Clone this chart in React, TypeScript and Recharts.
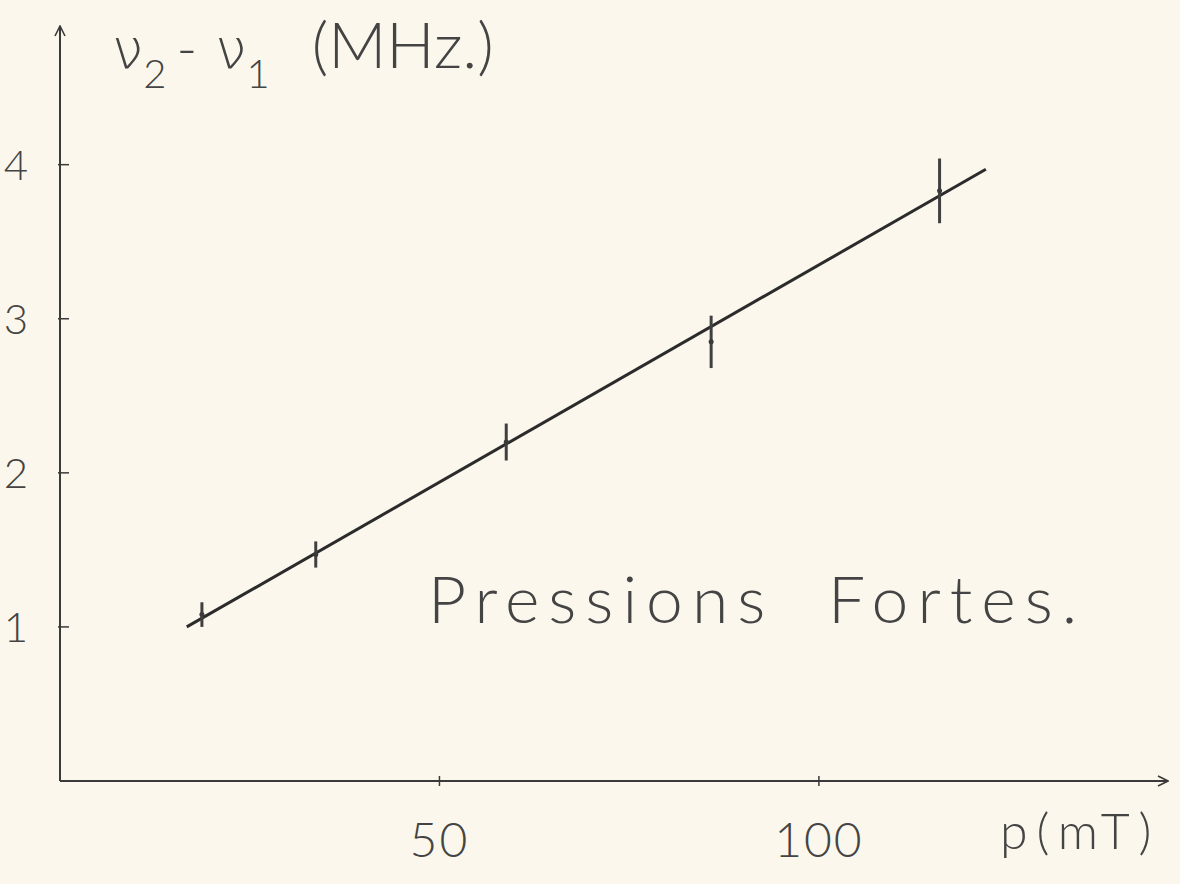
import { ComposedChart, Line, Scatter, ErrorBar, XAxis, YAxis } from 'recharts'

// pression (mT) et écart de fréquence (MHz)
const pressure = [18.7, 33.7, 58.8, 85.8, 115.9]
const deltaNu = [1.08, 1.47, 2.2, 2.85, 3.83]
const deltaErr = [0.08, 0.085, 0.12, 0.17, 0.21]

// droite ajustée
const fitP = [16.7, 122]
const fitNu = [1.0, 3.97]

const xTicks = [50, 100]
const yTicks = [1, 2, 3, 4]

const points = pressure.map((p, i) => ({ p, nu: deltaNu[i], err: deltaErr[i] }))
const fit = fitP.map((p, i) => ({ p, nu: fitNu[i] }))

const INK = '#3a3a3a'
const PAPER = '#fbf7ec'
const FONT = "Lato, 'DejaVu Sans', sans-serif"

const XTick = (props: any) => {
    const { x, y, payload } = props
    return (
        <g>
            <line x1={x} x2={x} y1={y - 5} y2={y + 5} stroke={INK} strokeWidth={1.5} />
            <text x={x} y={y + 76} textAnchor="middle" fontSize={48} fontWeight={300} fill="#444" fontFamily={FONT} letterSpacing={2}>
                {payload.value}
            </text>
        </g>
    )
}

const YTick = (props: any) => {
    const { x, y, payload } = props
    return (
        <g>
            <line x1={x - 2} x2={x + 9} y1={y} y2={y} stroke={INK} strokeWidth={1.5} />
            <text x={x - 44} y={y + 15} textAnchor="middle" fontSize={42} fontWeight={300} fill="#444" fontFamily={FONT}>
                {payload.value}
            </text>
        </g>
    )
}

const Dot = (props: any) => {
    const { cx, cy } = props
    return <circle cx={cx} cy={cy} r={2.5} fill={INK} />
}

export default function App() {
    return (
        <div style={{ position: 'fixed', left: 0, top: 0, width: 1180, height: 884, background: PAPER, fontFamily: FONT }}>
            <ComposedChart width={1180} height={884} margin={{ top: 26, right: 12, left: 0, bottom: 0 }}>
                <defs>
                    <marker id="arrow" viewBox="0 0 12 12" refX="11" refY="6" markerWidth="12" markerHeight="12" markerUnits="userSpaceOnUse" orient="auto-start-reverse">
                        <path d="M1,1 L11,6 L1,11" fill="none" stroke={INK} strokeWidth={1.6} />
                    </marker>
                </defs>
                <XAxis
                    type="number"
                    dataKey="p"
                    domain={[0, 146]}
                    ticks={xTicks}
                    height={103}
                    tickSize={0}
                    tickMargin={0}
                    tickLine={false}
                    tick={<XTick />}
                    axisLine={{ stroke: INK, strokeWidth: 2, markerEnd: 'url(#arrow)' }}
                    allowDataOverflow
                />
                <YAxis
                    type="number"
                    dataKey="nu"
                    domain={[0, 4.9]}
                    ticks={yTicks}
                    width={60}
                    tickSize={0}
                    tickMargin={0}
                    tickLine={false}
                    tick={<YTick />}
                    axisLine={{ stroke: INK, strokeWidth: 2, markerStart: 'url(#arrow)' }}
                    allowDataOverflow
                />
                <Line data={fit} dataKey="nu" stroke="#2b2b2b" strokeWidth={3} dot={false} isAnimationActive={false} />
                <Scatter data={points} dataKey="nu" shape={<Dot />} isAnimationActive={false}>
                    <ErrorBar dataKey="err" direction="y" width={0} stroke="#404040" strokeWidth={3} />
                </Scatter>
            </ComposedChart>

            <div style={{ position: 'absolute', left: 112, top: 4, color: '#444', fontWeight: 300, whiteSpace: 'nowrap', fontSize: 56, lineHeight: '80px' }}>
                <span style={{ fontFamily: "'DejaVu Sans'", fontWeight: 200 }}>ν</span>
                <sub style={{ fontSize: 40, verticalAlign: -20 }}>2</sub>
                <span style={{ margin: '0 10px' }}>-</span>
                <span style={{ fontFamily: "'DejaVu Sans'", fontWeight: 200, marginLeft: 8 }}>ν</span>
                <sub style={{ fontSize: 40, verticalAlign: -20 }}>1</sub>
                <span style={{ marginLeft: 42, fontSize: 64, letterSpacing: 0 }}>(MHz.)</span>
            </div>

            <div style={{ position: 'absolute', left: 428, top: 558, color: '#444', fontWeight: 300, fontSize: 66, letterSpacing: 9, whiteSpace: 'nowrap' }}>
                Pressions&nbsp; Fortes.
            </div>

            <div style={{ position: 'absolute', left: 1000, top: 800, color: '#444', fontWeight: 300, fontSize: 50, letterSpacing: 9, whiteSpace: 'nowrap' }}>
                p(mT)
            </div>
        </div>
    )
}
